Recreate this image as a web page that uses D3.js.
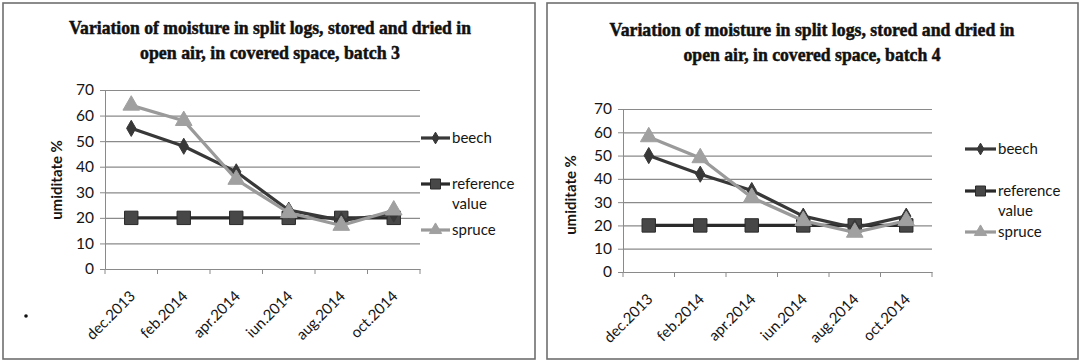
<!DOCTYPE html>
<html>
<head>
<meta charset="utf-8">
<script src="https://cdn.jsdelivr.net/npm/d3@7"></script>
<style>
  html, body { margin: 0; padding: 0; background: #fff; }
  svg { display: block; }
</style>
</head>
<body>
<svg id="chart" width="1081" height="361"></svg>
<script>
// ---- data ----
const categories = ["dec.2013", "feb.2014", "apr.2014", "iun.2014", "aug.2014", "oct.2014"];
const yTicks = [0, 10, 20, 30, 40, 50, 60, 70];
const seriesNames = ["beech", "reference value", "spruce"];

const batch3Beech = [55, 48, 38, 23, 19, 21.5];
const batch3Reference = [20, 20, 20, 20, 20, 20];
const batch3Spruce = [64, 58, 35, 22, 17, 23];

const batch4Beech = [50, 42, 35, 24, 19, 24];
const batch4Reference = [20, 20, 20, 20, 20, 20];
const batch4Spruce = [58, 49, 32, 22, 17, 22];

const title3 = ["Variation of moisture in split logs, stored and dried in", "open air,  in covered space, batch 3"];
const title4 = ["Variation of moisture in split logs, stored and dried in", "open air, in covered space, batch 4"];
const yTitle = "umiditate %";

// ---- styles ----
const styles = {
  beech: { stroke: "#383838", fill: "#383838", shape: d3.symbolDiamond, size: 75, lsize: 40 },
  reference: { stroke: "#2a2a2a", fill: "#474747", shape: d3.symbolSquare, size: 180, lsize: 100 },
  spruce: { stroke: "#9a9a9a", fill: "#a0a0a0", shape: d3.symbolTriangle, size: 120, lsize: 65 }
};
const sans = "Lato, 'Liberation Sans', sans-serif";
const serif = "'Liberation Serif', 'DejaVu Serif', serif";
const textCol = "#151515";

const svg = d3.select("#chart");

function drawChart(cfg) {
  const g = svg.append("g");
  g.append("rect").attr("x", cfg.frame[0]).attr("y", cfg.frame[1])
    .attr("width", cfg.frame[2]).attr("height", cfg.frame[3])
    .attr("fill", "#fff").attr("stroke", "#6f6f6f").attr("stroke-width", 1.6);

  cfg.title.forEach((t, i) => {
    g.append("text").attr("x", cfg.titleX).attr("y", cfg.titleY + i * 24.5)
      .attr("text-anchor", "middle")
      .attr("font-family", serif).attr("font-weight", "bold").attr("font-size", 19)
      .attr("textLength", cfg.titleW[i]).attr("lengthAdjust", "spacingAndGlyphs")
      .attr("fill", "#111").attr("stroke", "#111").attr("stroke-width", 0.5)
      .text(t);
  });

  const x = d3.scaleBand().domain(categories).range([cfg.x0, cfg.x1]);
  const y = d3.scaleLinear().domain([0, 70]).range([cfg.yBot, cfg.yTop]);

  g.append("g").selectAll("line").data(yTicks.filter(v => v > 0)).join("line")
    .attr("x1", cfg.x0).attr("x2", cfg.x1)
    .attr("y1", d => y(d) + 0.5).attr("y2", d => y(d) + 0.5)
    .attr("stroke", "#8a8a8a").attr("stroke-width", 1.2);

  const yAxis = g.append("g").attr("transform", `translate(${cfg.x0},0)`)
    .call(d3.axisLeft(y).tickValues(yTicks).tickSize(5).tickPadding(6));
  yAxis.select(".domain").attr("stroke", "#8a8a8a");
  yAxis.selectAll(".tick line").attr("stroke", "#8a8a8a");
  yAxis.selectAll("text").attr("font-family", sans).attr("font-size", 15.5).attr("fill", textCol);

  const xAxis = g.append("g").attr("transform", `translate(0,${cfg.yBot})`)
    .call(d3.axisBottom(x).tickSize(0).tickFormat(""));
  xAxis.select(".domain").attr("stroke", "#8a8a8a").attr("stroke-width", 1.2);
  const bounds = categories.map(c => x(c)).concat([cfg.x1]);
  g.append("g").selectAll("line").data(bounds).join("line")
    .attr("x1", d => d).attr("x2", d => d)
    .attr("y1", cfg.yBot).attr("y2", cfg.yBot + 5)
    .attr("stroke", "#8a8a8a");
  g.append("g").selectAll("text").data(categories).join("text")
    .attr("transform", d => `translate(${x(d) + x.bandwidth() / 2 + 5},${cfg.yBot + 28}) rotate(-45)`)
    .attr("text-anchor", "end")
    .attr("font-family", sans).attr("font-size", 15).attr("fill", textCol)
    .text(d => d);

  g.append("text").attr("transform", `translate(${cfg.yTitleX},${cfg.yTitleY}) rotate(-90)`)
    .attr("text-anchor", "middle")
    .attr("font-family", sans).attr("font-weight", "bold").attr("font-size", 15)
    .attr("fill", textCol).text(yTitle);

  const cx = d => x(d) + x.bandwidth() / 2;
  const line = d3.line().x((d, i) => cx(categories[i])).y(d => y(d));

  const series = [
    { key: "beech", vals: cfg.beech },
    { key: "reference", vals: cfg.reference },
    { key: "spruce", vals: cfg.spruce }
  ];
  ["reference", "beech", "spruce"].forEach(k => {
    const s = series.find(e => e.key === k);
    const st = styles[k];
    g.append("path").datum(s.vals).attr("d", line)
      .attr("fill", "none").attr("stroke", st.stroke).attr("stroke-width", 3.2)
      .attr("stroke-linejoin", "round");
    g.append("g").selectAll("path").data(s.vals).join("path")
      .attr("d", d3.symbol().type(st.shape).size(st.size))
      .attr("transform", (d, i) => `translate(${cx(categories[i])},${y(d)})`)
      .attr("fill", st.fill).attr("stroke", k === "reference" ? "#2a2a2a" : st.fill)
      .attr("stroke-width", 1);
  });

  const leg = [
    { key: "beech", lines: ["beech"], y: cfg.legY[0] },
    { key: "reference", lines: ["reference", "value"], y: cfg.legY[1] },
    { key: "spruce", lines: ["spruce"], y: cfg.legY[2] }
  ];
  leg.forEach(l => {
    const st = styles[l.key];
    g.append("line").attr("x1", cfg.legX0).attr("x2", cfg.legX1)
      .attr("y1", l.y).attr("y2", l.y)
      .attr("stroke", st.stroke).attr("stroke-width", 3.2);
    g.append("path").attr("d", d3.symbol().type(st.shape).size(st.lsize))
      .attr("transform", `translate(${(cfg.legX0 + cfg.legX1) / 2},${l.y})`)
      .attr("fill", st.fill).attr("stroke", l.key === "reference" ? "#2a2a2a" : st.fill);
    l.lines.forEach((t, i) => {
      g.append("text").attr("x", cfg.legX1 + 2).attr("y", l.y + 5 + i * 20)
        .attr("font-family", sans).attr("font-size", 15).attr("fill", textCol)
        .text(t);
    });
  });
}

drawChart({
  frame: [3, 3, 532, 356],
  title: title3, titleX: 270, titleY: 34, titleW: [402, 260],
  x0: 105, x1: 420, yTop: 90, yBot: 269,
  yTitleX: 62, yTitleY: 180,
  legX0: 421, legX1: 450, legY: [138, 184, 230],
  beech: batch3Beech, reference: batch3Reference, spruce: batch3Spruce
});

drawChart({
  frame: [547, 3, 531, 356],
  title: title4, titleX: 812, titleY: 36, titleW: [405, 257],
  x0: 623, x1: 932, yTop: 109, yBot: 272,
  yTitleX: 576, yTitleY: 195,
  legX0: 965, legX1: 996, legY: [149, 191, 232],
  beech: batch4Beech, reference: batch4Reference, spruce: batch4Spruce
});

svg.append("circle").attr("cx", 26).attr("cy", 316).attr("r", 1.8).attr("fill", "#111");
</script>
</body>
</html>
